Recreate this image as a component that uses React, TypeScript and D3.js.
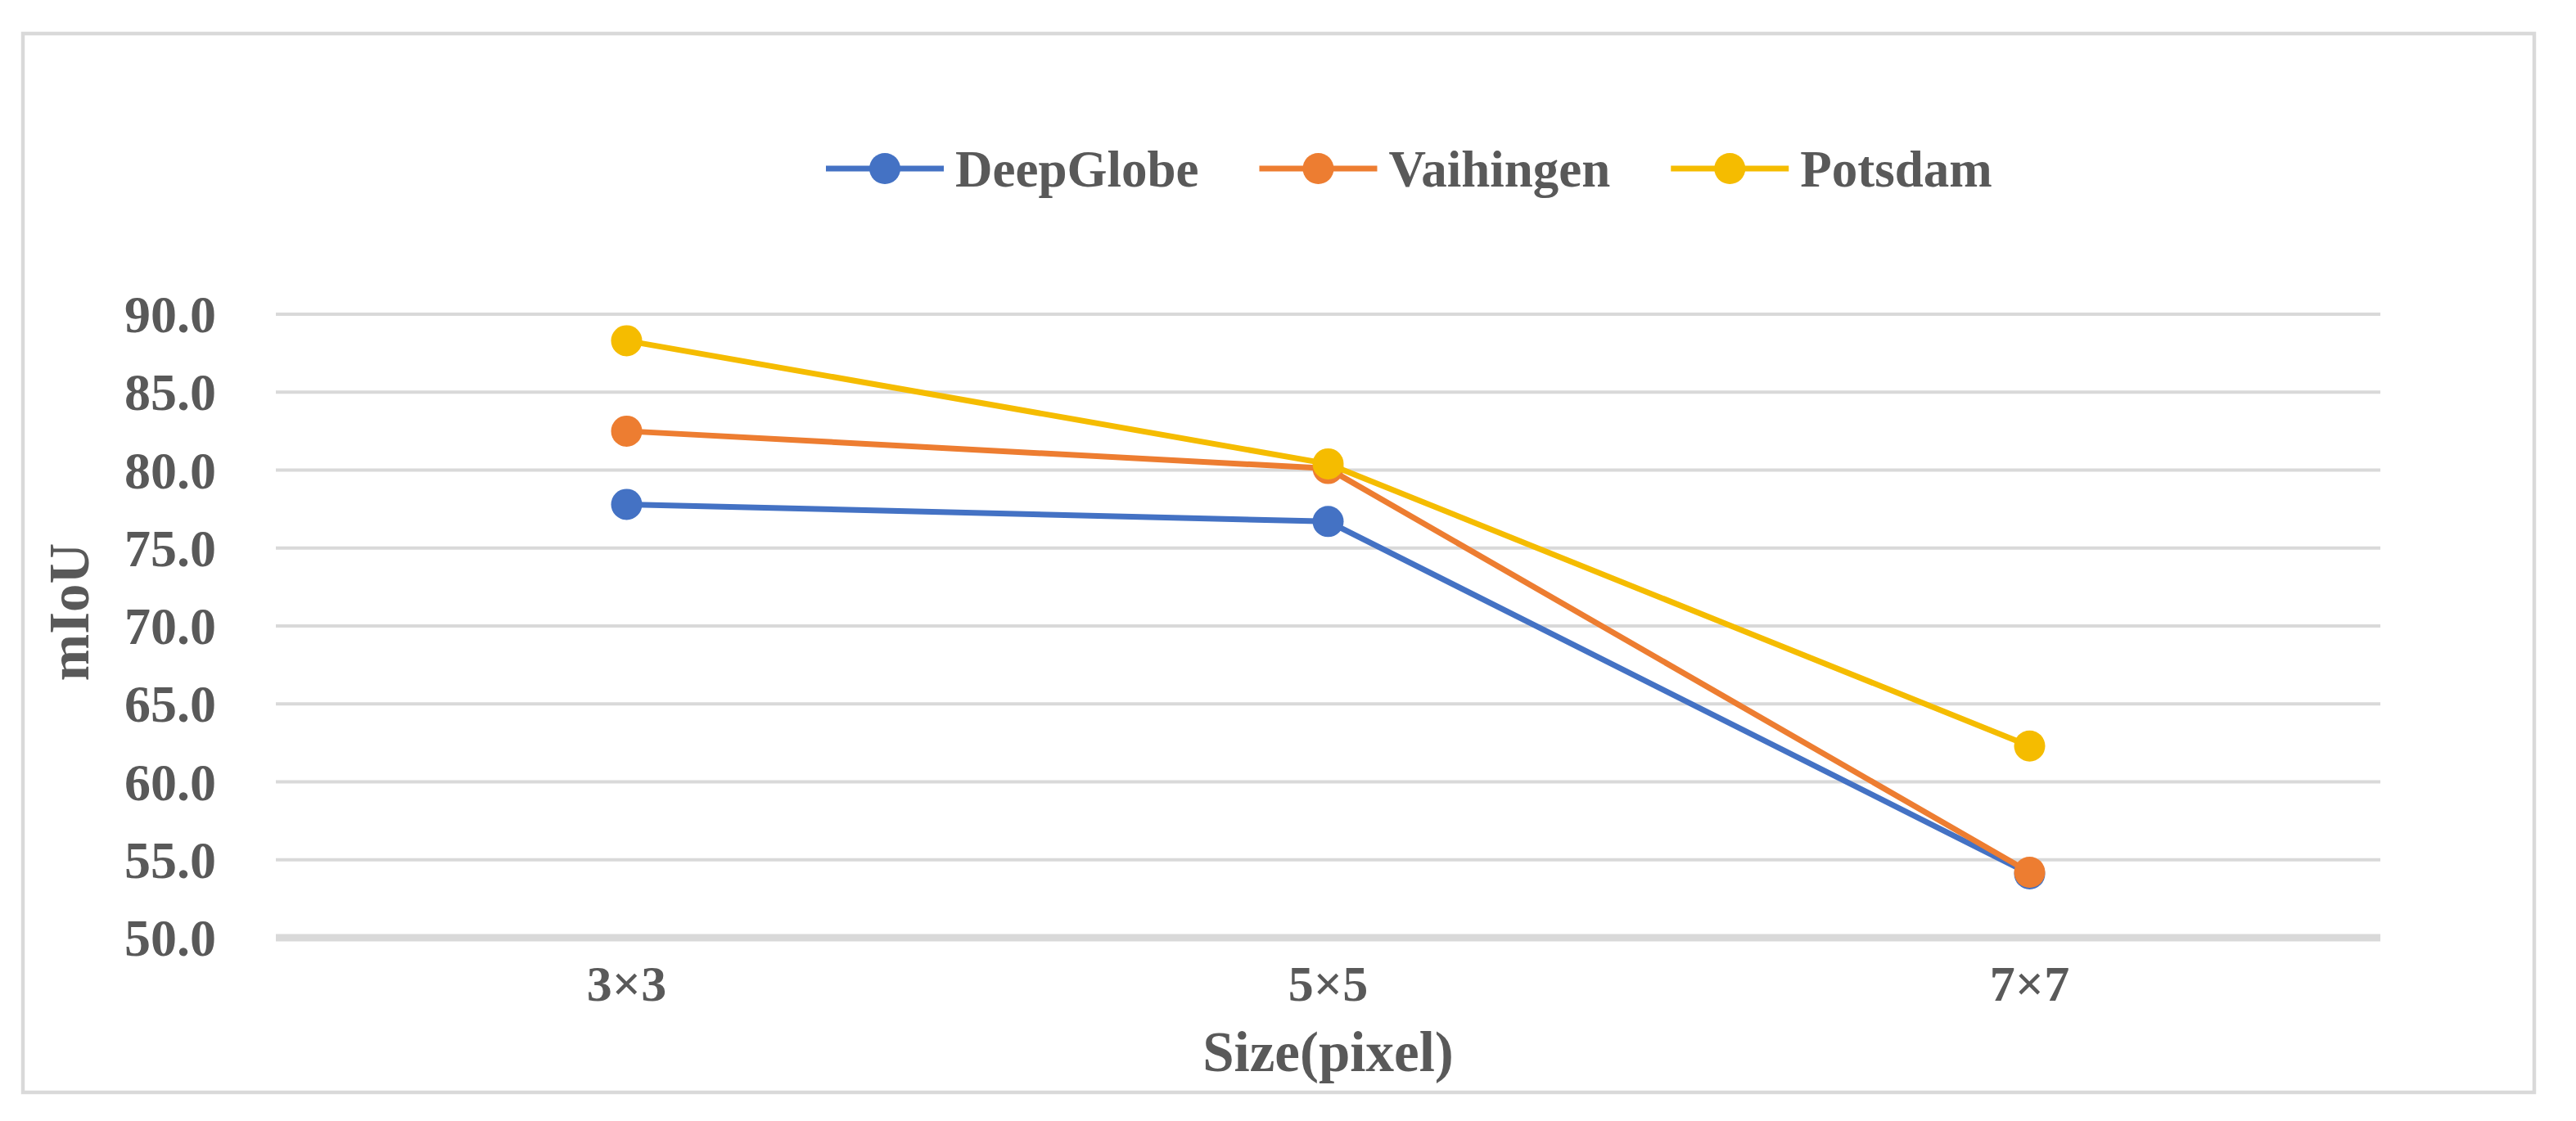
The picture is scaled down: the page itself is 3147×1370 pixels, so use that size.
import { useEffect, useRef } from 'react';
import * as d3 from 'd3';

// Kernel sizes on the x axis
const sizes = ['3×3', '5×5', '7×7'];

// mIoU per dataset
const deepGlobe = [77.8, 76.7, 54.1];
const vaihingen = [82.5, 80.1, 54.2];
const potsdam = [88.3, 80.4, 62.3];

const seriesNames = ['DeepGlobe', 'Vaihingen', 'Potsdam'];
const seriesColors = ['#4472c4', '#ed7d31', '#f5bc00'];

const yTicks = [50, 55, 60, 65, 70, 75, 80, 85, 90];

const W = 3147;
const H = 1370;
const FONT = '"Liberation Serif", "Times New Roman", serif';
const TEXT = '#595959';
const GRID = '#d9d9d9';

export default function App() {
    const svgRef = useRef<SVGSVGElement>(null);

    useEffect(() => {
        document.body.style.margin = '0';
        if (!svgRef.current) return;

        const svg = d3.select(svgRef.current);
        svg.selectAll('*').remove();

        // plot area
        const left = 337, right = 2908, top = 384, bottom = 1146;

        const x = d3.scaleBand<string>().domain(sizes).range([left, right]);
        const y = d3.scaleLinear().domain([50, 90]).range([bottom, top]);
        const cx = (s: string) => (x(s) ?? 0) + x.bandwidth() / 2;

        // outer frame
        svg.append('rect')
            .attr('x', 28).attr('y', 41)
            .attr('width', 3096 - 28).attr('height', 1335 - 41)
            .attr('fill', '#fff')
            .attr('stroke', GRID)
            .attr('stroke-width', 4.5);

        // grid lines
        svg.append('g')
            .selectAll('line')
            .data(yTicks.filter(t => t !== 50))
            .enter().append('line')
            .attr('x1', left).attr('x2', right)
            .attr('y1', d => y(d)).attr('y2', d => y(d))
            .attr('stroke', GRID)
            .attr('stroke-width', 4);

        // y tick labels
        svg.append('g')
            .selectAll('text')
            .data(yTicks)
            .enter().append('text')
            .attr('x', 264)
            .attr('y', d => y(d) + 22)
            .attr('text-anchor', 'end')
            .attr('font-family', FONT)
            .attr('font-weight', 'bold')
            .attr('font-size', 64)
            .attr('fill', TEXT)
            .text(d => d.toFixed(1));

        // x tick labels
        svg.append('g')
            .selectAll('text')
            .data(sizes)
            .enter().append('text')
            .attr('x', d => cx(d))
            .attr('y', 1223)
            .attr('text-anchor', 'middle')
            .attr('font-family', FONT)
            .attr('font-weight', 'bold')
            .attr('font-size', 62)
            .attr('fill', TEXT)
            .text(d => d);

        // axis titles
        svg.append('text')
            .attr('x', (left + right) / 2)
            .attr('y', 1309)
            .attr('text-anchor', 'middle')
            .attr('font-family', FONT)
            .attr('font-weight', 'bold')
            .attr('font-size', 69)
            .attr('fill', TEXT)
            .text('Size(pixel)');

        svg.append('text')
            .attr('transform', `translate(108,748) rotate(-90)`)
            .attr('text-anchor', 'middle')
            .attr('font-family', FONT)
            .attr('font-weight', 'bold')
            .attr('font-size', 69)
            .attr('fill', TEXT)
            .text('mIoU');

        // series
        const allSeries = [deepGlobe, vaihingen, potsdam];
        const line = d3.line<number>()
            .x((_, i) => cx(sizes[i]))
            .y(d => y(d));

        allSeries.forEach((vals, si) => {
            const g = svg.append('g');
            g.append('path')
                .datum(vals)
                .attr('fill', 'none')
                .attr('stroke', seriesColors[si])
                .attr('stroke-width', 7)
                .attr('stroke-linejoin', 'round')
                .attr('d', line);
            g.selectAll('circle')
                .data(vals)
                .enter().append('circle')
                .attr('cx', (_, i) => cx(sizes[i]))
                .attr('cy', d => y(d))
                .attr('r', 19)
                .attr('fill', seriesColors[si]);
        });

        // x axis line on top
        svg.append('line')
            .attr('x1', left).attr('x2', right)
            .attr('y1', y(50)).attr('y2', y(50))
            .attr('stroke', GRID)
            .attr('stroke-width', 9);

        // legend
        const legendY = 206;
        let lx = 1009;
        seriesNames.forEach((name, i) => {
            const g = svg.append('g');
            g.append('line')
                .attr('x1', lx).attr('x2', lx + 144)
                .attr('y1', legendY).attr('y2', legendY)
                .attr('stroke', seriesColors[i])
                .attr('stroke-width', 7);
            g.append('circle')
                .attr('cx', lx + 72).attr('cy', legendY)
                .attr('r', 19)
                .attr('fill', seriesColors[i]);
            const t = g.append('text')
                .attr('x', lx + 158)
                .attr('y', legendY + 22)
                .attr('font-family', FONT)
                .attr('font-weight', 'bold')
                .attr('font-size', 63)
                .attr('fill', TEXT)
                .text(name);
            const len = (t.node() as SVGTextElement).getComputedTextLength();
            lx = lx + 158 + len + 74;
        });
    }, []);

    return <svg ref={svgRef} width={W} height={H} style={{ display: 'block', background: '#fff' }} />;
}
